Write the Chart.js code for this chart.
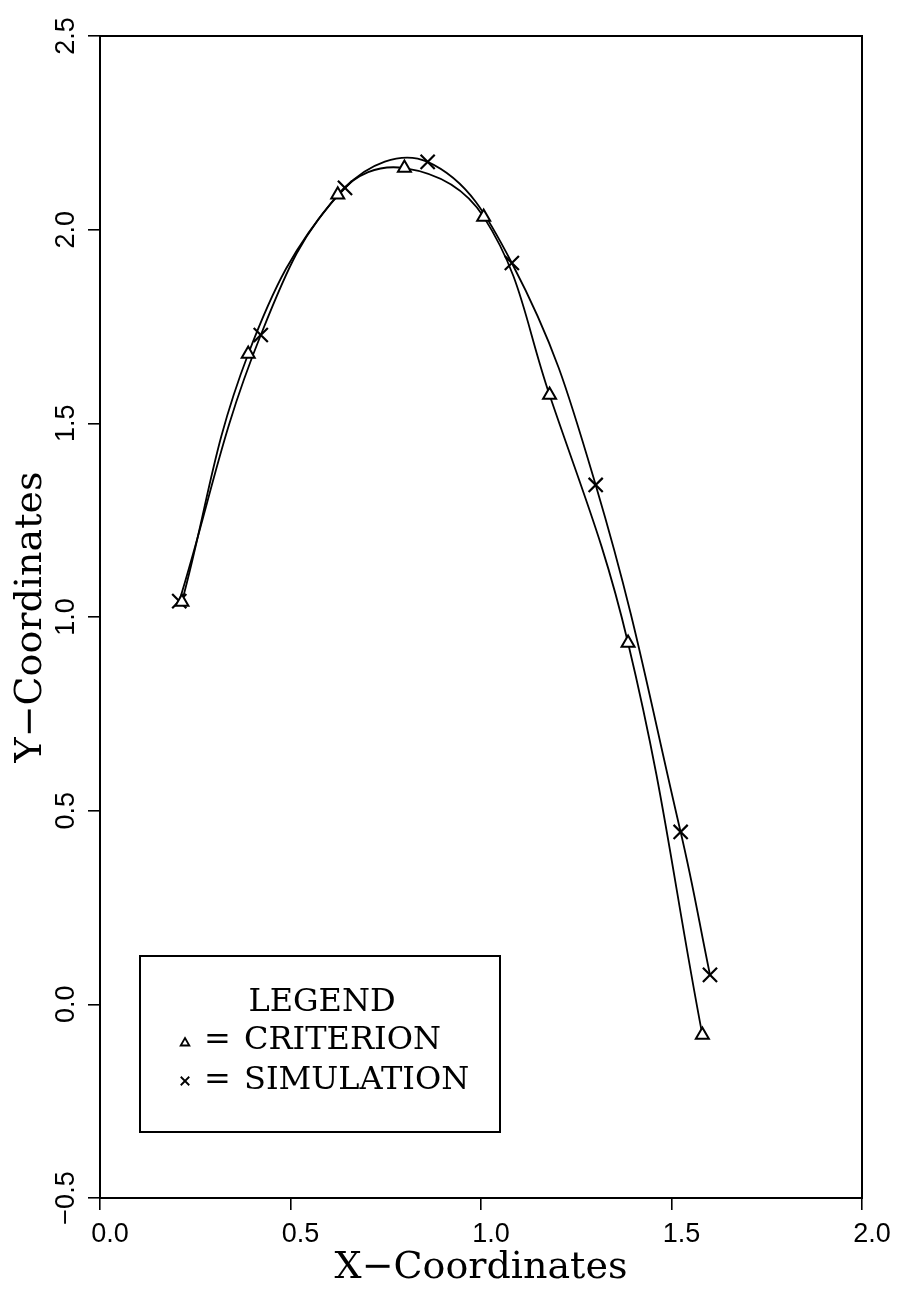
<!DOCTYPE html>
<html>
<head>
<meta charset="utf-8">
<script src="https://cdn.jsdelivr.net/npm/chart.js@4.4.1/dist/chart.umd.min.js"></script>
<style>
  html, body { margin: 0; padding: 0; background: #fff; }
  #wrap { width: 902px; height: 1296px; }
</style>
</head>
<body>
<div id="wrap"><canvas id="c" width="902" height="1296"></canvas></div>
<script>
// ---- Data ----
const criterionX = [0.215, 0.389, 0.624, 0.799, 1.007, 1.180, 1.386, 1.581];
const criterionY = [1.039, 1.679, 2.090, 2.159, 2.033, 1.573, 0.933, -0.079];
const simulationX = [0.208, 0.422, 0.643, 0.860, 1.081, 1.301, 1.524, 1.601];
const simulationY = [1.041, 1.728, 2.108, 2.175, 1.914, 1.341, 0.445, 0.076];
const xTickValues = [0.0, 0.5, 1.0, 1.5, 2.0];
const yTickValues = [-0.5, 0.0, 0.5, 1.0, 1.5, 2.0, 2.5];
const xTitle = 'X\u2212Coordinates';
const yTitle = 'Y\u2212Coordinates';
const legendTitle = 'LEGEND';
const criterionLabel = 'CRITERION';
const simulationLabel = 'SIMULATION';

const toPts = (xs, ys) => xs.map((x, i) => ({ x: x, y: ys[i] }));

const boxPlugin = {
  id: 'boxPlugin',
  afterDraw(chart) {
    const { ctx, chartArea: a, scales } = chart;
    ctx.save();
    // frame
    ctx.strokeStyle = '#000';
    ctx.lineWidth = 2;
    ctx.strokeRect(a.left, a.top, a.right - a.left, a.bottom - a.top);
    // rotated y tick labels
    ctx.fillStyle = '#000';
    ctx.font = '27px "Liberation Sans", sans-serif';
    ctx.textAlign = 'center';
    ctx.textBaseline = 'middle';
    yTickValues.forEach(v => {
      const y = scales.y.getPixelForValue(v);
      ctx.save();
      ctx.translate(a.left - 33, y);
      ctx.rotate(-Math.PI / 2);
      ctx.fillText(v.toFixed(1).replace('-', '\u2212'), 0, 0);
      ctx.restore();
    });
    // legend box
    const L = 140, T = 956, R = 500, B = 1132;
    ctx.lineWidth = 2;
    ctx.strokeRect(L, T, R - L, B - T);
    ctx.font = '32px "DejaVu Serif", serif';
    ctx.textAlign = 'center';
    ctx.fillText(legendTitle, 322, 1003);
    ctx.textAlign = 'left';
    ctx.fillText('=', 204, 1041);
    ctx.fillText(criterionLabel, 244, 1041);
    ctx.fillText('=', 204, 1081);
    ctx.fillText(simulationLabel, 244, 1081);
    const ds = chart.data.datasets;
    ctx.strokeStyle = '#000';
    ctx.fillStyle = '#fff';
    ctx.lineWidth = 1.8;
    Chart.helpers.drawPoint(ctx, { pointStyle: ds[0].pointStyle, radius: 5, borderWidth: 1.8 }, 185, 1043);
    ctx.lineWidth = 1.8;
    Chart.helpers.drawPoint(ctx, { pointStyle: ds[1].pointStyle, radius: 6, borderWidth: 1.8 }, 185, 1081);
    ctx.restore();
  }
};

new Chart(document.getElementById('c'), {
  type: 'scatter',
  data: {
    datasets: [
      {
        label: criterionLabel,
        data: toPts(criterionX, criterionY),
        showLine: true,
        tension: 0.4,
        borderColor: '#000',
        backgroundColor: '#fff',
        borderWidth: 1.8,
        pointStyle: 'triangle',
        pointRadius: 7.5,
        pointBorderWidth: 2,
        pointBorderColor: '#000',
        pointBackgroundColor: '#fff'
      },
      {
        label: simulationLabel,
        data: toPts(simulationX, simulationY),
        showLine: true,
        tension: 0.4,
        borderColor: '#000',
        backgroundColor: '#000',
        borderWidth: 1.8,
        pointStyle: 'crossRot',
        pointRadius: 10,
        pointBorderWidth: 2.2,
        pointBorderColor: '#000'
      }
    ]
  },
  options: {
    responsive: false,
    animation: false,
    events: [],
    layout: { padding: { left: 0, right: 40, top: 36, bottom: 0 } },
    plugins: { legend: { display: false }, tooltip: { enabled: false } },
    scales: {
      x: {
        type: 'linear',
        min: 0, max: 2,
        afterBuildTicks: s => { s.ticks = xTickValues.map(v => ({ value: v })); },
        afterFit: s => { s.height = 98; },
        ticks: {
          color: '#000',
          padding: 8,
          labelOffset: 10,
          maxRotation: 0,
          font: { family: '"Liberation Sans", sans-serif', size: 27 },
          callback: v => Number(v).toFixed(1)
        },
        grid: { drawOnChartArea: false, drawTicks: true, tickLength: 12, color: '#000', lineWidth: 1.6 },
        border: { display: true, color: '#000', width: 2 },
        title: {
          display: true, text: xTitle, color: '#000',
          font: { family: '"DejaVu Serif", serif', size: 38 },
          padding: { top: 0, bottom: 5 }
        }
      },
      y: {
        type: 'linear',
        min: -0.5, max: 2.5,
        afterBuildTicks: s => { s.ticks = yTickValues.map(v => ({ value: v })); },
        afterFit: s => { s.width = 100; },
        ticks: { display: false },
        grid: { drawOnChartArea: false, drawTicks: true, tickLength: 12, color: '#000', lineWidth: 1.6 },
        border: { display: true, color: '#000', width: 2 },
        title: {
          display: true, text: yTitle, color: '#000',
          font: { family: '"DejaVu Serif", serif', size: 38 },
          padding: { top: 8, bottom: 0 }
        }
      }
    }
  },
  plugins: [boxPlugin]
});
</script>
</body>
</html>
